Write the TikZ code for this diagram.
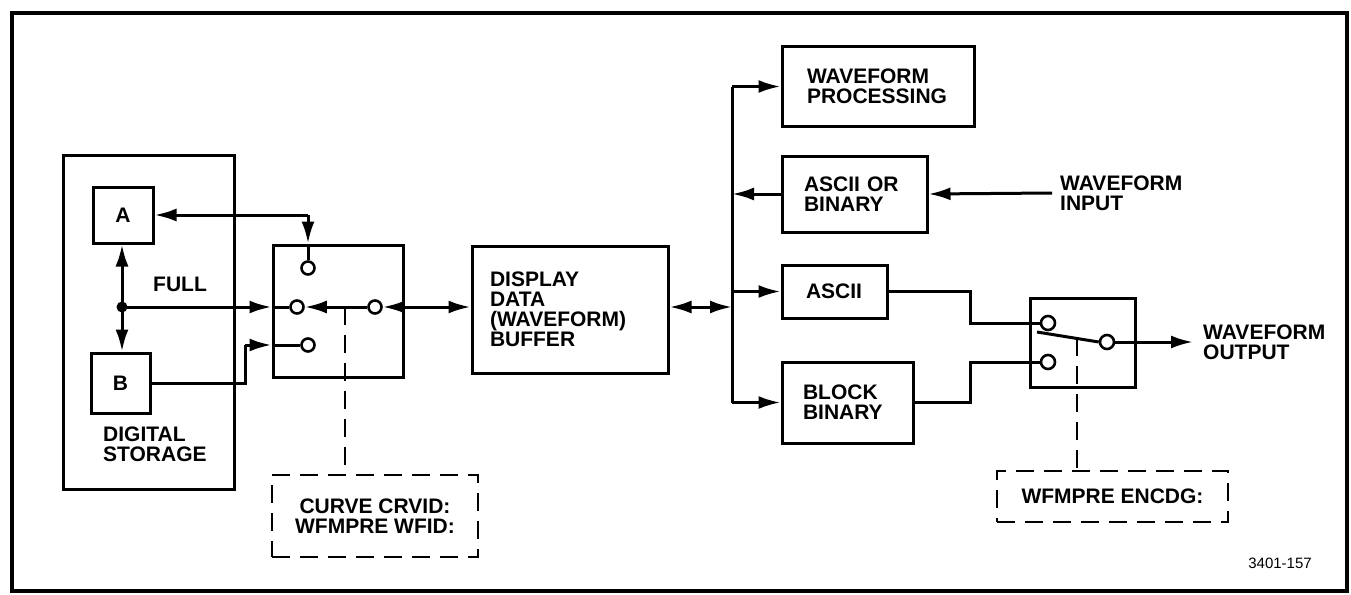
\documentclass[tikz,border=0pt]{standalone}
\usepackage{fontspec}
\setmainfont{Liberation Sans}
\usetikzlibrary{arrows.meta}
\begin{document}
\begin{tikzpicture}[x=1pt,y=-1pt,
  every node/.style={font=\fontsize{21}{20}\selectfont\bfseries},
  ln/.style={line width=3pt},
  box/.style={draw,line width=3pt,align=left,inner sep=0pt},
  pin/.style={circle,draw,line width=2.6pt,minimum size=14pt,inner sep=0pt,fill=white},
  arr/.style={ln,-{Latex[length=22pt,width=13pt]}},
  darr/.style={ln,{Latex[length=22pt,width=13pt]}-{Latex[length=22pt,width=13pt]}},
  dbox/.style={draw,line width=2.6pt,dash pattern=on 18pt off 10pt,align=center,inner sep=0pt},
  dln/.style={line width=2.6pt,dash pattern=on 18pt off 10pt},
  lbl/.style={align=left,inner sep=0pt}]
\useasboundingbox (0,0) rectangle (1351,594);
\draw[line width=3.5pt] (12,13) rectangle (1347,591);

% digital storage
\node[box,minimum width=171pt,minimum height=334pt] (DS) at (148.5,322) {};
\node[lbl,anchor=north west] (dst) at (103,427) {DIGITAL\\STORAGE};
\node[box,minimum width=60pt,minimum height=56pt,align=center] (A) at (123,215) {A};
\node[box,minimum width=59pt,minimum height=60pt,align=center] (B) at (120.5,383) {B};
\coordinate (J) at (122,307);
\node (full) at (180,284) {FULL};

% switch 1
\node[box,minimum width=130pt,minimum height=132pt] (SW1) at (338,311) {};
\node[pin,minimum size=13pt] (c1t) at (308,268) {};
\node[pin,minimum size=13pt] (c1l) at (297,307) {};
\node[pin,minimum size=13pt] (c1r) at (375,307) {};
\node[pin,minimum size=13pt] (c1b) at (308,345) {};
\coordinate (kA) at (c1t |- A.east);
\coordinate (kB1) at (245,383);
\coordinate (kB2) at (245,345);
\coordinate (dj) at (345,307);

% display buffer
\node[box,inner xsep=18pt,text width=160pt,minimum height=127pt] (Disp) at (570,309.5) {DISPLAY\\DATA\\(WAVEFORM)\\BUFFER};

% right side boxes
\node[box,inner xsep=25pt,text width=142pt,minimum height=79pt] (WP) at (878,86.5) {WAVEFORM\\PROCESSING};
\node[box,inner xsep=22pt,text width=101pt,minimum height=76pt] (AOB) at (854.5,194) {ASCII OR\\BINARY};
\node[box,inner xsep=24pt,text width=57pt,minimum height=53pt] (ASC) at (834.5,291.5) {ASCII};
\node[box,inner xsep=21pt,text width=89pt,minimum height=81pt] (BB) at (847.5,402.5) {BLOCK\\BINARY};
\coordinate (busT) at (732,86.5);
\coordinate (busB) at (732,402.5);
\node[lbl,anchor=west,inner xsep=8pt] (wi) at (1052,193) {WAVEFORM\\INPUT};

% switch 2
\node[box,minimum width=105pt,minimum height=89pt] (SW2) at (1082.5,342.5) {};
\node[pin] (c2t) at (1048,323) {};
\node[pin] (c2b) at (1048,362) {};
\node[pin] (c2r) at (1107,342) {};
\coordinate (arm0) at (1037,332);
\coordinate (armm) at (1077,338);
\coordinate (kC1) at (970,291.5);
\coordinate (kC2) at (970,323);
\coordinate (kD1) at (970,402.5);
\coordinate (kD2) at (970,362);
\node[lbl,anchor=west,inner xsep=10pt] (wo) at (1193,342) {WAVEFORM\\OUTPUT};

% dashed boxes
\node[dbox,minimum width=206pt,minimum height=82pt] (DB1) at (375,516) {CURVE CRVID:\\WFMPRE WFID:};
\node[dbox,minimum width=231pt,minimum height=51pt] (DB2) at (1112.5,496.5) {WFMPRE ENCDG:};
\node[font=\fontsize{15}{15}\selectfont] (fig) at (1280,563) {3401-157};

% connectors left
\draw[arr] (J) -- (J |- A.south);
\draw[arr] (J) -- (J |- B.north);
\fill (J) circle (5.5pt);
\draw[arr] (kA) -- (A.east);
\draw[arr] (kA) -- (kA |- SW1.north);
\draw[ln] (kA |- SW1.north) -- (c1t.north);
\draw[arr] (J) -- (J -| SW1.west);
\draw[ln] (J -| SW1.west) -- (c1l.west);
\draw[arr] (c1r.west) -- (c1l.east);
\draw[ln] (B.east) -- (kB1) -- (kB2);
\draw[arr] (kB2) -- (kB2 -| SW1.west);
\draw[ln] (kB2 -| SW1.west) -- (c1b.west);
\draw[arr] (SW1.east |- c1r) -- (c1r.east);
\draw[arr] (SW1.east |- c1r) -- (c1r -| Disp.west);
\draw[dln] (dj) -- (dj |- DB1.north);

% bus
\draw[darr] (Disp.east |- c1r) -- (c1r -| busT);
\draw[ln] (busT) -- (busB);
\draw[arr] (busT) -- (WP.west);
\draw[arr] (AOB.west) -- (AOB.west -| busT);
\draw[arr] (ASC.west -| busT) -- (ASC.west);
\draw[arr] (busB) -- (BB.west);
\draw[arr] (wi.west) -- (AOB.east);

% switch 2 wiring
\draw[ln] (ASC.east) -- (kC1) -- (kC2) -- (c2t.west);
\draw[ln] (BB.east) -- (kD1) -- (kD2) -- (c2b.west);
\draw[ln] (arm0) -- (c2r.west);
\draw[arr] (c2r.east) -- (wo.west);
\draw[dln] (armm) -- (armm |- DB2.north);
\end{tikzpicture}
\end{document}
